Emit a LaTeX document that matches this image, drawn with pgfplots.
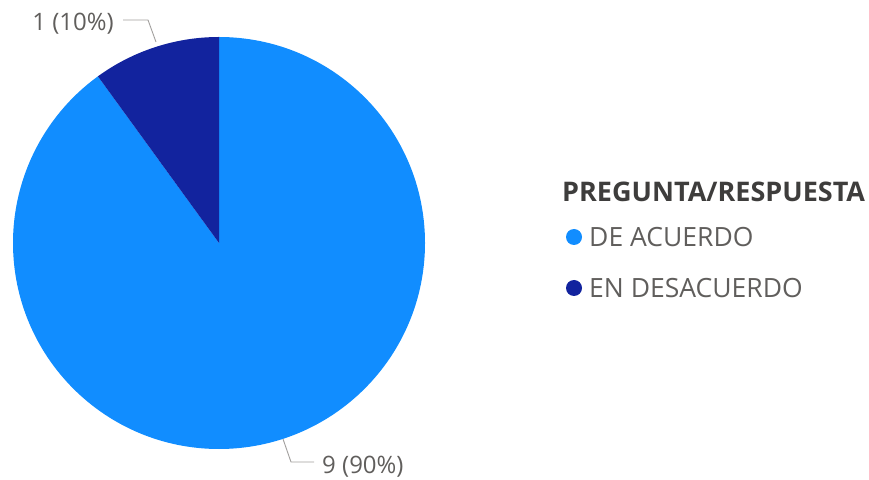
\documentclass[border=0pt]{standalone}
\usepackage{pgfplots}
\usepackage{pgfplotstable}
\pgfplotsset{compat=1.18}
\usepackage{fontspec}
\setmainfont{Open Sans}
\definecolor{pbLight}{HTML}{118DFF}
\definecolor{pbDark}{HTML}{12239E}
\definecolor{lblgray}{HTML}{605E5C}
\definecolor{ttlgray}{HTML}{3E3D3C}
\definecolor{leader}{HTML}{A19F9D}
\pgfplotstableread{
label value color
{DE ACUERDO} 9 pbLight
{EN DESACUERDO} 1 pbDark
}\piedata
\begin{document}
\begin{tikzpicture}
\path[use as bounding box] (0,0) rectangle (869pt,479pt);
\begin{axis}[at={(0,0)},anchor=south west,width=869pt,height=479pt,scale only axis,
  xmin=0,xmax=869,ymin=0,ymax=479,hide axis,clip=false]
\def\total{0}
\pgfplotsforeachungrouped \i in {0,1}{%
  \pgfplotstablegetelem{\i}{value}\of\piedata
  \pgfmathsetmacro\total{\total+\pgfplotsretval}%
}
\def\cumul{0}
\pgfplotsforeachungrouped \i in {0,1}{%
  \pgfplotstablegetelem{\i}{value}\of\piedata \let\v\pgfplotsretval
  \pgfplotstablegetelem{\i}{color}\of\piedata \let\c\pgfplotsretval
  \pgfmathsetmacro\a{90-360*\cumul/\total}%
  \pgfmathsetmacro\b{90-360*(\cumul+\v)/\total}%
  \edef\temp{\noexpand\fill[\c] (axis cs:219,236) -- ++(\a:206pt) arc[start angle=\a,end angle=\b,radius=206pt] -- cycle;}%
  \temp
  \pgfmathsetmacro\cumul{\cumul+\v}%
}
% leader lines
\draw[leader,line width=0.9pt] (axis cs:156,437) -- (axis cs:148,459) -- (axis cs:123,459);
\draw[leader,line width=0.9pt] (axis cs:283,40) -- (axis cs:291,17) -- (axis cs:314,17);
\node[anchor=east,text=lblgray,font=\fontsize{24}{26}\selectfont,inner sep=0pt] at (axis cs:114,455) {1 (10\%)};
\node[anchor=west,text=lblgray,font=\fontsize{24}{26}\selectfont,inner sep=0pt] at (axis cs:322,12) {9 (90\%)};
% legend
\node[anchor=west,text=ttlgray,font=\fontsize{27}{29}\selectfont\bfseries,inner sep=0pt] at (axis cs:562,287) {PREGUNTA/RESPUESTA};
\fill[pbLight] (axis cs:574,242) circle[radius=8pt];
\fill[pbDark] (axis cs:574,191) circle[radius=8pt];
\node[anchor=west,text=lblgray,font=\fontsize{26.5}{28}\selectfont,inner sep=0pt] at (axis cs:589,242) {DE ACUERDO};
\node[anchor=west,text=lblgray,font=\fontsize{26.5}{28}\selectfont,inner sep=0pt] at (axis cs:589,191) {EN DESACUERDO};
\end{axis}
\end{tikzpicture}
\end{document}
